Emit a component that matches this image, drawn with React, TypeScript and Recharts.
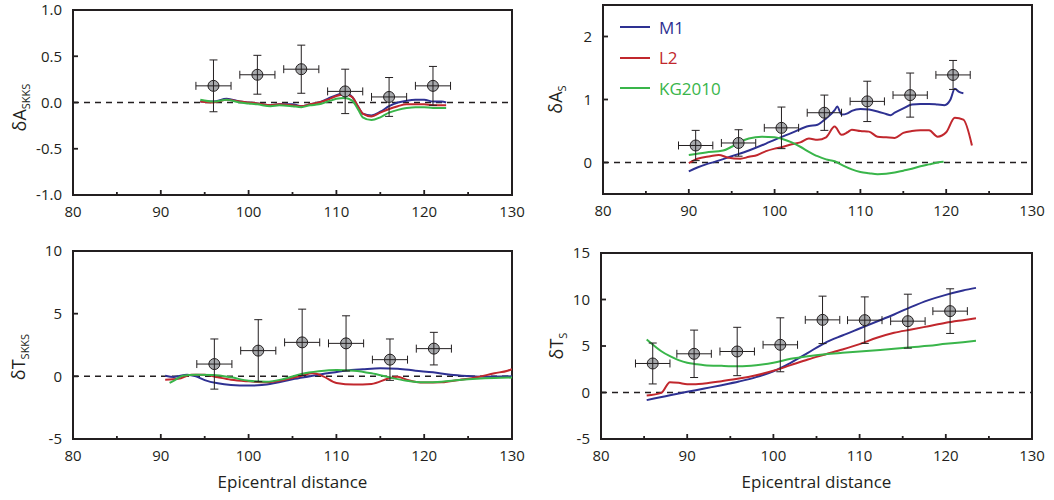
import React from "react";
import { ComposedChart, Line, Scatter, ErrorBar, XAxis, YAxis, ReferenceLine, ReferenceArea, Legend } from "recharts";

const FONT = '"Open Sans", "Liberation Sans", sans-serif';
const INK = "#231f20";
const BLUE = "#2e3192";
const RED = "#c1272d";
const GREEN = "#39b54a";
const DOT_FILL = "#a7a9ac";

const xTicks = [80, 85, 90, 95, 100, 105, 110, 115, 120, 125, 130];
const modelNames = ["M1", "L2", "KG2010"];
const modelColors = [BLUE, RED, GREEN];
const distErr = 2;

// top left: SKKS amplitude
const skksAmpObsX = [96, 101, 106, 111, 116, 121];
const skksAmpObsY = [0.18, 0.3, 0.36, 0.12, 0.06, 0.18];
const skksAmpObsErr = [0.28, 0.21, 0.26, 0.24, 0.21, 0.21];
const skksAmpX = [94.5, 96, 97.5, 99, 100, 101, 102.5, 103.5, 105, 106, 107, 108, 109, 110, 111, 111.8, 112.5, 113, 114, 115, 116, 117, 118, 119, 120, 121, 122, 122.5];
const skksAmpM1 = [0.01, 0.01, 0.04, 0.01, 0.0, -0.01, -0.03, -0.02, -0.02, -0.04, -0.02, 0.0, 0.04, 0.08, 0.1, 0.06, -0.05, -0.12, -0.14, -0.1, -0.04, 0.0, 0.02, 0.03, 0.03, 0.01, 0.01, 0.0];
const skksAmpL2 = [0.01, 0.0, 0.03, 0.01, 0.0, -0.01, -0.03, -0.02, -0.03, -0.04, -0.02, 0.0, 0.03, 0.07, 0.09, 0.06, -0.05, -0.12, -0.15, -0.11, -0.07, -0.04, -0.02, -0.02, -0.02, -0.03, -0.03, -0.03];
const skksAmpKG = [0.03, 0.01, 0.03, 0.0, -0.01, -0.02, -0.04, -0.03, -0.04, -0.05, -0.03, -0.02, 0.01, 0.04, 0.05, 0.02, -0.08, -0.16, -0.19, -0.16, -0.11, -0.08, -0.06, -0.05, -0.05, -0.06, -0.06, -0.06];

// top right: S amplitude
const sAmpObsX = [90.8, 95.8, 100.8, 105.8, 110.8, 115.8, 120.8];
const sAmpObsY = [0.27, 0.31, 0.55, 0.79, 0.97, 1.07, 1.39];
const sAmpObsErr = [0.24, 0.21, 0.33, 0.28, 0.32, 0.35, 0.23];
const sAmpM1X = [90, 91, 92, 93, 95, 97, 99, 100, 102, 104, 105, 106, 107, 107.3, 107.8, 108.5, 109, 110, 111, 112, 113, 113.5, 114, 115, 116, 117, 118, 119, 119.8, 120.5, 121, 121.5, 122];
const sAmpM1 = [-0.14, -0.08, -0.03, 0.01, 0.1, 0.19, 0.3, 0.36, 0.47, 0.58, 0.6, 0.7, 0.83, 0.89, 0.76, 0.78, 0.82, 0.85, 0.84, 0.81, 0.77, 0.75, 0.79, 0.86, 0.92, 0.93, 0.93, 0.92, 0.91, 1.0, 1.17, 1.12, 1.1];
const sAmpL2X = [90, 91, 92.5, 93.5, 94.5, 96, 97, 98, 99, 100, 101, 102, 103, 104, 105, 106, 107, 107.8, 108.5, 109, 110, 111, 112, 113, 114, 115, 116, 117, 118, 119, 120, 121, 122, 123];
const sAmpL2 = [-0.01, 0.06, 0.1, 0.12, 0.08, 0.06, 0.09, 0.12, 0.18, 0.22, 0.25, 0.29, 0.32, 0.38, 0.36, 0.4, 0.57, 0.44, 0.48, 0.52, 0.5, 0.49, 0.41, 0.4, 0.39, 0.47, 0.5, 0.51, 0.51, 0.41, 0.48, 0.71, 0.68, 0.27];
const sAmpKGX = [90, 92, 94, 95, 96, 97, 98.5, 100, 101, 102, 103, 104, 105, 106, 107, 108, 109, 110, 111, 112, 113, 114, 115, 116, 117, 118, 119, 119.7];
const sAmpKG = [0.12, 0.16, 0.19, 0.25, 0.33, 0.38, 0.41, 0.4, 0.37, 0.32, 0.25, 0.17, 0.1, 0.05, 0.02, -0.05, -0.11, -0.15, -0.17, -0.185, -0.18, -0.16, -0.13, -0.1, -0.06, -0.03, 0.0, 0.01];

// bottom left: SKKS travel time
const skksTimeObsX = [96.1, 101.1, 106.1, 111.1, 116.1, 121.1];
const skksTimeObsY = [0.98, 2.05, 2.71, 2.63, 1.33, 2.21];
const skksTimeObsErr = [2.0, 2.47, 2.65, 2.2, 1.65, 1.3];
const skksTimeM1X = [90.5, 91.5, 93, 94, 95, 96.5, 98, 100, 101.5, 103, 105, 107, 109, 111, 113, 115, 117, 119, 121, 123, 125, 127, 130];
const skksTimeM1 = [0.05, -0.05, 0.13, 0.0, -0.3, -0.56, -0.69, -0.74, -0.69, -0.53, -0.24, 0.0, 0.24, 0.45, 0.56, 0.64, 0.61, 0.45, 0.32, 0.13, 0.03, -0.03, 0.0];
const skksTimeL2X = [90.5, 92, 93.5, 95, 96.5, 98, 100, 102, 104, 106, 107.3, 108.5, 110, 112, 114, 116, 117, 118, 120, 122, 124, 126, 128, 129.5, 130];
const skksTimeL2 = [-0.27, -0.2, 0.13, 0.13, -0.08, -0.27, -0.4, -0.48, -0.29, 0.05, 0.24, 0.0, -0.53, -0.66, -0.61, -0.16, -0.03, -0.27, -0.5, -0.48, -0.29, -0.08, 0.25, 0.45, 0.58];
const skksTimeKGX = [91, 91.5, 92.5, 94, 96, 98, 100, 102, 104, 106, 108, 110, 112, 114, 116, 118, 120, 122, 124, 126, 128, 130];
const skksTimeKG = [-0.53, -0.35, 0.05, 0.13, 0.1, -0.08, -0.35, -0.43, -0.21, 0.19, 0.4, 0.5, 0.45, 0.24, -0.08, -0.35, -0.48, -0.43, -0.29, -0.19, -0.13, -0.1];

// bottom right: S travel time
const sTimeObsX = [86, 90.8, 95.8, 100.8, 105.7, 110.6, 115.6, 120.5];
const sTimeObsY = [3.12, 4.16, 4.41, 5.13, 7.81, 7.78, 7.67, 8.75];
const sTimeObsErr = [2.2, 2.55, 2.6, 2.9, 2.55, 2.5, 2.9, 2.4];
const sTimeM1X = [85.3, 88, 90, 92, 94, 96, 98, 100, 102, 104, 106, 108, 110, 112, 114, 116, 118, 120, 122, 123.5];
const sTimeM1 = [-0.82, -0.29, 0.07, 0.43, 0.79, 1.18, 1.65, 2.29, 3.19, 4.27, 5.34, 6.13, 6.88, 7.63, 8.39, 9.21, 9.93, 10.5, 10.97, 11.25];
const sTimeL2X = [85.3, 87, 88, 89, 90, 91, 92, 94, 96, 98, 100, 102, 104, 106, 108, 110, 112, 114, 116, 118, 120, 122, 123.5];
const sTimeL2 = [-0.32, -0.04, 1.11, 1.04, 0.9, 0.9, 0.97, 1.22, 1.5, 1.86, 2.33, 2.94, 3.55, 4.09, 4.62, 5.2, 5.88, 6.42, 6.77, 7.13, 7.49, 7.78, 7.99];
const sTimeKGX = [85.3, 86, 87, 88, 89, 90, 91, 92, 94, 96, 98, 100, 102, 104, 106, 108, 110, 112, 114, 116, 118, 120, 122, 123.5];
const sTimeKG = [5.7, 5.16, 4.44, 3.9, 3.48, 3.19, 3.05, 2.94, 2.87, 2.83, 2.94, 3.19, 3.62, 3.91, 4.12, 4.27, 4.41, 4.55, 4.7, 4.87, 5.02, 5.23, 5.41, 5.56];

const toPoints = (xs: number[], ys: number[]) => xs.map((x, i) => ({ x, y: ys[i] }));
const toObs = (xs: number[], ys: number[], errs: number[]) =>
  xs.map((x, i) => ({ x, y: ys[i], ey: errs[i], ex: distErr }));

const TICK_GAP = 11;
const MAJOR = 5;
const MINOR = 3;

// inward tick marks + labels, drawn by hand so they point into the box
const BottomTick = (props: any) => {
  const { x, y, payload } = props;
  const major = payload.value % 10 === 0;
  const ay = y - TICK_GAP;
  return (
    <g>
      <line x1={x} y1={ay} x2={x} y2={ay - (major ? MAJOR : MINOR)} stroke={INK} strokeWidth={1.8} />
      {major && (
        <text x={x} y={y} dy="0.71em" textAnchor="middle" fontFamily={FONT} fontSize={15} fill={INK}>
          {payload.value}
        </text>
      )}
    </g>
  );
};

const TopTick = (props: any) => {
  const { x, y, payload } = props;
  const major = payload.value % 10 === 0;
  return <line x1={x} y1={y} x2={x} y2={y + (major ? MAJOR : MINOR)} stroke={INK} strokeWidth={1.8} />;
};

const makeLeftTick = (fmt: (v: number) => string) => (props: any) => {
  const { x, y, payload } = props;
  const ax = x + TICK_GAP;
  return (
    <g>
      <line x1={ax} y1={y} x2={ax + MAJOR} y2={y} stroke={INK} strokeWidth={1.8} />
      <text x={x} y={y} dy="0.355em" textAnchor="end" fontFamily={FONT} fontSize={15} fill={INK}>
        {fmt(payload.value)}
      </text>
    </g>
  );
};

const RightTick = (props: any) => {
  const { x, y } = props;
  return <line x1={x} y1={y} x2={x - MAJOR} y2={y} stroke={INK} strokeWidth={1.8} />;
};

const ObsDot = (props: any) => {
  const { cx, cy } = props;
  if (cx == null || cy == null) return null;
  const r = 5.5;
  return (
    <g>
      <circle cx={cx} cy={cy} r={r} fill={DOT_FILL} stroke={INK} strokeWidth={1} />
      <line x1={cx - r} y1={cy} x2={cx + r} y2={cy} stroke={INK} strokeWidth={1} />
      <line x1={cx} y1={cy - r} x2={cx} y2={cy + r} stroke={INK} strokeWidth={1} />
    </g>
  );
};

const AxisTitle = ({ viewBox, main, sub, dx, dy }: any) => {
  const cx = viewBox.x + dx;
  const cy = viewBox.y + viewBox.height / 2 + dy;
  return (
    <text transform={`translate(${cx},${cy}) rotate(-90)`} textAnchor="middle" fontFamily={FONT} fontSize={18} fill={INK}>
      δ{main}
      <tspan fontSize={11} dy={4}>{sub}</tspan>
    </text>
  );
};

const LegendBox = () => (
  <div style={{ fontFamily: FONT, fontSize: 17 }}>
    {modelNames.map((name, i) => (
      <div key={name} style={{ display: "flex", alignItems: "center", height: 30.5 }}>
        <svg width={30} height={4}>
          <line x1={0} y1={2} x2={30} y2={2} stroke={modelColors[i]} strokeWidth={2} />
        </svg>
        <span style={{ marginLeft: 9, color: modelColors[i] }}>{name}</span>
      </div>
    ))}
  </div>
);

type PanelProps = {
  left: number; top: number; width: number; height: number;
  margin: { top: number; right: number; bottom: number; left: number };
  yAxisWidth: number; xAxisHeight: number;
  yDomain: [number, number]; yTicks: number[]; yFmt: (v: number) => string;
  main: string; sub: string; titleDx: number; titleDy: number;
  lines: { x: number; y: number }[][];
  obs: { x: number; y: number; ey: number; ex: number }[];
  xLabel?: boolean; legend?: boolean;
};

function Panel(p: PanelProps) {
  return (
    <div style={{ position: "absolute", left: p.left, top: p.top }}>
      <ComposedChart width={p.width} height={p.height} margin={p.margin}>
        <XAxis
          xAxisId="b" type="number" dataKey="x" domain={[80, 130]} allowDataOverflow ticks={xTicks}
          tickSize={0} tickMargin={TICK_GAP} height={p.xAxisHeight} axisLine={false} tickLine={false}
          tick={<BottomTick />} interval={0}
          label={p.xLabel ? { value: "Epicentral distance", position: "insideBottom", offset: 6, style: { fontFamily: FONT, fontSize: 17, fill: INK } } : undefined}
        />
        <XAxis
          xAxisId="t" orientation="top" type="number" dataKey="x" domain={[80, 130]} allowDataOverflow ticks={xTicks}
          tickSize={0} tickMargin={0} height={0} axisLine={false} tickLine={false} tick={<TopTick />} interval={0}
        />
        <YAxis
          yAxisId="l" type="number" dataKey="y" domain={p.yDomain} allowDataOverflow ticks={p.yTicks}
          tickSize={0} tickMargin={TICK_GAP} width={p.yAxisWidth} axisLine={false} tickLine={false}
          tick={makeLeftTick(p.yFmt)} interval={0}
          label={{ content: (lp: any) => <AxisTitle viewBox={lp.viewBox} main={p.main} sub={p.sub} dx={p.titleDx} dy={p.titleDy} /> }}
        />
        <YAxis
          yAxisId="r" orientation="right" type="number" dataKey="y" domain={p.yDomain} allowDataOverflow ticks={p.yTicks}
          tickSize={0} tickMargin={0} width={0} axisLine={false} tickLine={false} tick={<RightTick />} interval={0}
        />
        <ReferenceLine xAxisId="b" yAxisId="l" y={0} stroke={INK} strokeWidth={1.5} strokeDasharray="6 5" />
        {p.lines.map((pts, i) => (
          <Line
            key={modelNames[i]} name={modelNames[i]} xAxisId="b" yAxisId="l" data={pts} dataKey="y"
            type="monotone" stroke={modelColors[i]} strokeWidth={2} dot={false} activeDot={false}
            isAnimationActive={false}
          />
        ))}
        <Scatter xAxisId="b" yAxisId="l" data={p.obs} dataKey="y" shape={<ObsDot />} isAnimationActive={false}>
          <ErrorBar dataKey="ey" direction="y" width={4} stroke={INK} strokeWidth={1} />
          <ErrorBar dataKey="ex" direction="x" width={4} stroke={INK} strokeWidth={1} />
        </Scatter>
        <ReferenceArea
          xAxisId="b" yAxisId="l" x1={80} x2={130} y1={p.yDomain[0]} y2={p.yDomain[1]}
          fill="none" fillOpacity={0} stroke={INK} strokeWidth={2} strokeOpacity={1} ifOverflow="visible"
        />
        {p.legend && (
          <Legend
            layout="vertical" align="center" verticalAlign="middle" content={() => <LegendBox />}
            wrapperStyle={{ left: 90, top: 12, width: 150, height: 95 }}
          />
        )}
      </ComposedChart>
    </div>
  );
}

export default function App() {
  const fmt1 = (v: number) => v.toFixed(1);
  const fmt0 = (v: number) => String(v);
  return (
    <div style={{ position: "absolute", left: 0, top: 0, width: 1054, height: 500, background: "#fff" }}>
      <Panel
        left={0} top={0} width={530} height={230}
        margin={{ top: 10, right: 18, bottom: 5, left: 0 }} yAxisWidth={73} xAxisHeight={30}
        yDomain={[-1, 1]} yTicks={[-1, -0.5, 0, 0.5, 1]} yFmt={fmt1}
        main="A" sub="SKKS" titleDx={26} titleDy={5}
        lines={[toPoints(skksAmpX, skksAmpM1), toPoints(skksAmpX, skksAmpL2), toPoints(skksAmpX, skksAmpKG)]}
        obs={toObs(skksAmpObsX, skksAmpObsY, skksAmpObsErr)}
      />
      <Panel
        left={530} top={0} width={524} height={230}
        margin={{ top: 5, right: 22, bottom: 6, left: 0 }} yAxisWidth={73} xAxisHeight={30}
        yDomain={[-0.5, 2.5]} yTicks={[0, 1, 2]} yFmt={fmt0}
        main="A" sub="S" titleDx={32} titleDy={0}
        lines={[toPoints(sAmpM1X, sAmpM1), toPoints(sAmpL2X, sAmpL2), toPoints(sAmpKGX, sAmpKG)]}
        obs={toObs(sAmpObsX, sAmpObsY, sAmpObsErr)}
        legend
      />
      <Panel
        left={0} top={230} width={530} height={270}
        margin={{ top: 21, right: 18, bottom: 6, left: 0 }} yAxisWidth={73} xAxisHeight={55}
        yDomain={[-5, 10]} yTicks={[-5, 0, 5, 10]} yFmt={fmt0}
        main="T" sub="SKKS" titleDx={25} titleDy={12}
        lines={[toPoints(skksTimeM1X, skksTimeM1), toPoints(skksTimeL2X, skksTimeL2), toPoints(skksTimeKGX, skksTimeKG)]}
        obs={toObs(skksTimeObsX, skksTimeObsY, skksTimeObsErr)}
        xLabel
      />
      <Panel
        left={530} top={230} width={524} height={270}
        margin={{ top: 23, right: 22, bottom: 6, left: 0 }} yAxisWidth={71} xAxisHeight={55}
        yDomain={[-5, 15]} yTicks={[-5, 0, 5, 10, 15]} yFmt={fmt0}
        main="T" sub="S" titleDx={33} titleDy={0}
        lines={[toPoints(sTimeM1X, sTimeM1), toPoints(sTimeL2X, sTimeL2), toPoints(sTimeKGX, sTimeKG)]}
        obs={toObs(sTimeObsX, sTimeObsY, sTimeObsErr)}
        xLabel
      />
    </div>
  );
}
